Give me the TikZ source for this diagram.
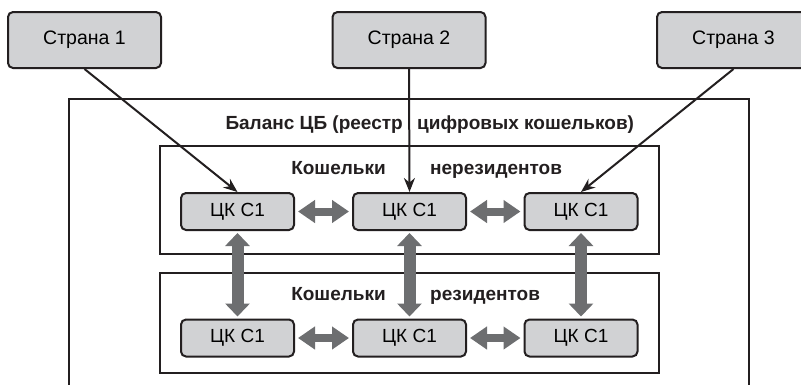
\documentclass[tikz,border=0pt]{standalone}
\usepackage{fontspec}
\setmainfont{Liberation Sans}
\usetikzlibrary{arrows.meta}
\definecolor{boxfill}{HTML}{D1D2D4}
\definecolor{arrowgray}{HTML}{6D6E70}
\definecolor{linecol}{HTML}{231F20}
\begin{document}
\begin{tikzpicture}[x=1pt,y=-1pt,
  country/.style={draw=linecol,line width=2pt,fill=boxfill,rounded corners=5pt,minimum width=153pt,minimum height=56pt,font=\fontsize{19.5}{22}\selectfont,inner sep=0pt},
  wallet/.style={draw=linecol,line width=2pt,fill=boxfill,rounded corners=5pt,minimum width=113pt,minimum height=37pt,font=\fontsize{19}{22}\selectfont,inner sep=0pt},
  frame/.style={draw=linecol,line width=2pt},
  heading/.style={font=\bfseries\fontsize{19}{22}\selectfont,inner sep=0pt,text=linecol},
  feed/.style={draw=linecol,line width=2pt,-{Stealth[length=14pt,width=11pt]}},
  hlink/.style={draw=arrowgray,line width=8pt,{Triangle[length=17pt,width=22pt]}-{Triangle[length=17pt,width=22pt]},shorten <=3pt,shorten >=3pt},
  vlink/.style={draw=arrowgray,line width=12pt,{Triangle[length=13pt,width=24pt]}-{Triangle[length=13pt,width=24pt]},shorten <=2pt,shorten >=2pt}
]
\useasboundingbox (0,0) rectangle (801,384);
\clip (0,0) rectangle (801,384);
\fill[white] (0,0) rectangle (801,384);
% outer frame
\draw[frame] (69,99) rectangle (749,400);
\node[heading,anchor=base east] (t1) at (403,129) {Баланс ЦБ (реестр};
\node[heading,anchor=base west] (t2) at (417,129) {цифровых кошельков)};
% inner frames
\draw[frame] (160,146) rectangle (659,254);
\draw[frame] (160,273) rectangle (659,373);
\node[heading,anchor=base east] (h1) at (386,174) {Кошельки};
\node[heading,anchor=base west] (h2) at (430,174) {нерезидентов};
\node[heading,anchor=base east] (h3) at (386,300) {Кошельки};
\node[heading,anchor=base west] (h4) at (430,300) {резидентов};
% countries
\node[country] (c1) at (84.5,40) {Страна 1};
\node[country] (c2) at (409,40) {Страна 2};
\node[country] (c3) at (733.5,40) {Страна 3};
% wallets
\node[wallet] (n1) at (237.5,211.5) {ЦК С1};
\node[wallet] (n2) at (409.5,211.5) {ЦК С1};
\node[wallet] (n3) at (581,211.5) {ЦК С1};
\node[wallet] (r1) at (237.5,338) {ЦК С1};
\node[wallet] (r2) at (409.5,338) {ЦК С1};
\node[wallet] (r3) at (581,338) {ЦК С1};
% feeds
\draw[feed] (c1.south) -- (n1.north);
\draw[feed] (c2.south) -- (n2.north);
\draw[feed] (c3.south) -- (n3.north);
% links
\draw[hlink] (n1.east) -- (n2.west);
\draw[hlink] (n2.east) -- (n3.west);
\draw[hlink] (r1.east) -- (r2.west);
\draw[hlink] (r2.east) -- (r3.west);
\draw[vlink] (n1.south) -- (r1.north);
\draw[vlink] (n2.south) -- (r2.north);
\draw[vlink] (n3.south) -- (r3.north);
\end{tikzpicture}
\end{document}
